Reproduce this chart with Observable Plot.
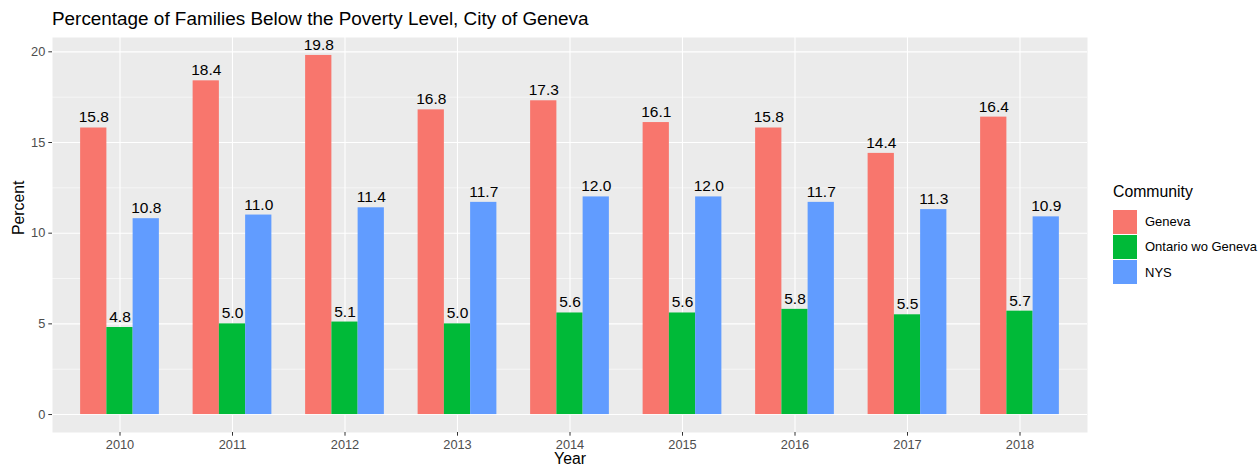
<!DOCTYPE html>
<html><head><meta charset="utf-8">
<script src="https://cdn.jsdelivr.net/npm/d3@7"></script>
<script src="https://cdn.jsdelivr.net/npm/@observablehq/plot@0.6"></script>
<style>
body{margin:0;background:#fff;font-family:"Liberation Sans",Arial,sans-serif;}
#wrap{position:relative;width:1260px;height:467px;overflow:hidden;background:#fff;}
#title{position:absolute;left:52px;top:7.5px;font-size:18.9px;color:#000;white-space:nowrap;line-height:normal;}
#chart{position:absolute;left:0;top:30px;}
#legend{position:absolute;left:1113px;top:183px;color:#000;}
#legend .lt{font-size:15.8px;line-height:18px;margin-bottom:8px;white-space:nowrap;}
#legend .row{display:flex;align-items:center;height:25.3px;}
#legend .sw{width:24px;height:24px;flex:none;}
#legend .lb{font-size:13px;margin-left:8px;white-space:nowrap;}
</style></head><body>
<div id="wrap">
<div id="title">Percentage of Families Below the Poverty Level, City of Geneva</div>
<div id="chart"></div>
<div id="legend"></div>
</div>
<script>
const years = [2010, 2011, 2012, 2013, 2014, 2015, 2016, 2017, 2018];
const communities = ["Geneva", "Ontario wo Geneva", "NYS"];
const geneva = [15.8, 18.4, 19.8, 16.8, 17.3, 16.1, 15.8, 14.4, 16.4];
const ontario = [4.8, 5.0, 5.1, 5.0, 5.6, 5.6, 5.8, 5.5, 5.7];
const nys = [10.8, 11.0, 11.4, 11.7, 12.0, 12.0, 11.7, 11.3, 10.9];
const colors = ["#F8766D", "#00BA38", "#619CFF"];
const yMajor = [0, 5, 10, 15, 20];
const yMinor = [2.5, 7.5, 12.5, 17.5];

const series = [geneva, ontario, nys];
const dodge = 0.7, w = dodge / communities.length;
const rows = [];
years.forEach((yr, i) => {
  communities.forEach((c, j) => {
    const x1 = yr - dodge / 2 + j * w;
    rows.push({year: yr, community: c, value: series[j][i], x1, x2: x1 + w, xc: x1 + w / 2});
  });
});
const vmax = d3.max(rows, d => d.value);
const yDomain = [0 - 0.05 * vmax, vmax + 0.05 * vmax];
const xDomain = [years[0] - 0.6, years[years.length - 1] + 0.6];

const chart = Plot.plot({
  width: 1090, height: 437,
  marginTop: 7, marginBottom: 35, marginLeft: 52, marginRight: 3,
  style: {fontFamily: '"Liberation Sans", Arial, sans-serif', fontSize: "12.8px", color: "#4D4D4D", background: "transparent", overflow: "visible"},
  x: {domain: xDomain, label: null},
  y: {domain: yDomain, label: null},
  color: {domain: communities, range: colors},
  marks: [
    Plot.frame({fill: "#EBEBEB", stroke: "none"}),
    Plot.ruleY(yMinor, {stroke: "white", strokeWidth: 0.55}),
    Plot.ruleY(yMajor, {stroke: "white", strokeWidth: 1.1}),
    Plot.ruleX(years, {stroke: "white", strokeWidth: 1.1}),
    Plot.axisX(years, {tickFormat: d => String(d), tickSize: 3.7, tickPadding: 3.6, fontSize: 12.8, stroke: "#333333", fill: "#4D4D4D", label: null}),
    Plot.axisY(yMajor, {tickSize: 3.7, tickPadding: 3.5, fontSize: 12.8, stroke: "#333333", fill: "#4D4D4D", label: null}),
    Plot.rect(rows, {x1: "x1", x2: "x2", y1: 0, y2: "value", fill: "community", inset: 0}),
    Plot.text(rows, {x: "xc", y: "value", text: d => d.value.toFixed(1), dy: -5.5, lineAnchor: "bottom", fill: "black", fontSize: 15.5}),
    Plot.text(["Percent"], {text: d => d, frameAnchor: "left", dx: -33.5, rotate: -90, fill: "black", fontSize: 15.8}),
    Plot.text(["Year"], {text: d => d, frameAnchor: "bottom", dy: 31, fill: "black", fontSize: 15.8})
  ]
});
document.getElementById("chart").appendChild(chart);

const leg = d3.select("#legend");
leg.append("div").attr("class", "lt").text("Community");
communities.forEach((c, j) => {
  const r = leg.append("div").attr("class", "row");
  r.append("div").attr("class", "sw").style("background", colors[j]);
  r.append("div").attr("class", "lb").text(c);
});
</script>
</body></html>
